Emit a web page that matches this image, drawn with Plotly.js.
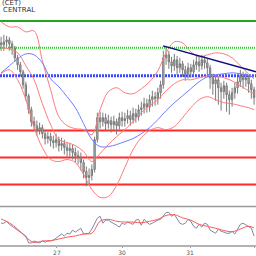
<!DOCTYPE html>
<html><head><meta charset="utf-8">
<script src="https://cdn.plot.ly/plotly-3.0.1.min.js"></script>
<style>html,body{margin:0;padding:0;background:#fff;overflow:hidden}#chart{width:256px;height:256px}</style>
</head><body><div id="chart"></div>
<script>
// prices in pips above base 1.3000
const basePrice = 1.3000, pip = 0.0001;
const openPips  = [164,162,165,167,163,159,149,142,135,122,111,97,85,81,76,79,73,68,70,66,64,67,61,63,59,56,58,54,51,49,44,35,29,31,37,67,89,85,89,83,86,82,85,81,89,86,88,91,87,93,90,97,99,103,100,107,110,108,114,122,149,152,145,141,147,139,143,137,133,139,135,142,145,141,147,144,139,129,123,127,119,115,121,112,107,114,119,125,131,127,129,123,117];
const highPips  = [170,172,171,170,166,161,152,145,137,125,113,100,90,86,84,82,77,75,74,71,73,70,69,67,64,63,62,59,56,54,47,40,38,42,70,94,95,94,93,92,90,91,88,94,95,94,97,96,99,98,102,105,109,108,112,116,115,119,126,156,160,156,150,153,151,149,146,141,144,143,147,151,150,152,151,148,142,133,132,130,124,126,124,116,119,124,130,137,135,134,132,127,120];
const lowPips   = [156,156,160,156,152,145,137,130,118,106,93,80,76,71,72,68,62,63,60,58,59,55,56,52,50,50,47,44,42,36,28,20,22,26,34,64,78,80,76,78,74,77,72,77,80,80,83,81,83,84,86,91,93,94,95,100,101,102,108,118,142,138,134,136,132,134,130,126,128,129,131,137,135,137,138,132,118,112,106,102,96,108,95,92,100,108,113,120,118,120,114,108,102];
const closePips = [162,165,167,163,159,149,142,135,122,111,97,85,81,76,79,73,68,70,66,64,67,61,63,59,56,58,54,51,49,44,35,29,31,37,67,89,85,89,83,86,82,85,81,89,86,88,91,87,93,90,97,99,103,100,107,110,108,114,122,149,152,145,141,147,139,143,137,133,139,135,142,145,141,147,144,139,129,123,127,119,115,121,112,107,114,119,125,131,127,129,123,117,109];

// indicator readings (bar index -> pips)
const indIdx        = [0,3,6,9,12,15,18,21,24,27,30,33,36,39,42,45,48,51,54,57,60,63,66,69,72,75,78,81,84,87,90,92];
const upperBandPips = [185,180,180,175,176,146,117,90,81,78,77,72,97,115,119,114,113,118,125,136,154,165,164,155,150,152,154,153,149,141,133,128];
const middleBandPips= [159,158,154,141,127,103,82,67,64,61,55,45,53,62,70,77,85,94,101,107,116,123,127,127,129,131,131,129,126,121,116,113];
const lowerBandPips = [133,137,127,107,79,59,47,45,47,44,32,17,9,10,21,39,57,69,76,79,77,80,89,99,107,110,107,104,103,101,99,97];
const maPips        = [134,141,148,153,152,144,128,120,110,99,83,67,60,60,62,65,68,73,79,87,96,104,111,118,125,130,132,133,134,133,131,130];

// oscillator (0-100)
const oscMain = [59,59,64,56,51,46,41,38,33,26,8,8,13,10,8,13,10,13,13,15,21,26,31,26,33,31,41,36,41,46,31,33,33,44,59,72,77,59,67,67,62,59,54,49,59,56,62,59,56,67,69,54,69,62,56,59,64,67,69,79,87,87,77,82,72,59,56,59,69,64,51,46,56,49,59,56,41,36,33,44,38,36,33,33,38,31,44,56,59,54,51,46,26];
const oscSignal = [70,60,44,23,9,13,14,18,23,26,31,33,64,69,64,62,62,60,64,69,79,81,73,67,56,51,46,40,37,44,51,47];

// horizontal levels (pips) and trendline
const greenSolidLevel = 186, greenDotLevel = 159, blueLevel = 131;
const redLevels = [76, 49, 22];
const trendIdx = [58.9, 92.7];
const trendPips = [161, 135];

// x tick labels (dates)
const tickIdx  = [20.3, 44, 68.7, 92];
const tickText = ['27','30','31','1'];

const P = a => a.map(v => basePrice + v*pip);
const barIdx = closePips.map((_, i) => i);

const traces = [
  {type:'candlestick', x: barIdx, open:P(openPips), high:P(highPips), low:P(lowPips), close:P(closePips),
   increasing:{line:{color:'#7a7a7a', width:1}, fillcolor:'#bdbdbd'},
   decreasing:{line:{color:'#7a7a7a', width:1}, fillcolor:'#bdbdbd'},
   whiskerwidth:0, hoverinfo:'skip', showlegend:false, xaxis:'x', yaxis:'y'},
  {type:'scatter', mode:'lines', x:indIdx, y:P(upperBandPips), line:{color:'#ff7a7a', width:1, shape:'spline'}, showlegend:false, hoverinfo:'skip'},
  {type:'scatter', mode:'lines', x:indIdx, y:P(middleBandPips), line:{color:'#ff7a7a', width:1, shape:'spline'}, showlegend:false, hoverinfo:'skip'},
  {type:'scatter', mode:'lines', x:indIdx, y:P(lowerBandPips), line:{color:'#ff7a7a', width:1, shape:'spline'}, showlegend:false, hoverinfo:'skip'},
  {type:'scatter', mode:'lines', x:indIdx, y:P(maPips), line:{color:'#6f7cff', width:1, shape:'spline'}, showlegend:false, hoverinfo:'skip'},
  {type:'scatter', mode:'lines', x:trendIdx, y:P(trendPips), line:{color:'#0a0a80', width:1.5}, showlegend:false, hoverinfo:'skip'},
  {type:'scatter', mode:'lines', x:barIdx, y:oscMain, line:{color:'#7f86a8', width:1}, xaxis:'x', yaxis:'y2', showlegend:false, hoverinfo:'skip'},
  {type:'scatter', mode:'lines', x:indIdx, y:oscSignal, line:{color:'#ff5a5a', width:1, shape:'spline'}, xaxis:'x', yaxis:'y2', showlegend:false, hoverinfo:'skip'}
];

const hline = (v, color, width, dash) => ({type:'line', xref:'paper', x0:0, x1:1, yref:'y', y0:basePrice+v*pip, y1:basePrice+v*pip, line:{color, width, dash}, layer:'below'});
const shapes = [
  hline(greenSolidLevel, '#1fa81f', 2, 'solid'),
  hline(greenDotLevel, '#2ec82e', 2, '1px,1px'),
  hline(blueLevel, '#3b48ff', 3, '2px,1px'),
  ...redLevels.map(v => hline(v, '#ff2a2a', 2, 'solid')),
  {type:'line', xref:'paper', yref:'paper', x0:0, x1:1, y0:0.161, y1:0.161, line:{color:'#9a9a9a', width:1.5}},
  {type:'line', xref:'paper', yref:'paper', x0:0, x1:1, y0:0, y1:0, line:{color:'#9a9a9a', width:1.5}}
];

const layout = {
  width:256, height:256,
  margin:{l:0, r:0, t:0, b:10},
  paper_bgcolor:'#fff', plot_bgcolor:'#fff',
  showlegend:false,
  xaxis:{range:[-0.4, 92.7], anchor:'y2', showgrid:false, zeroline:false, showline:false,
         tickvals:tickIdx, ticktext:tickText, tickfont:{size:6, color:'#555', family:'DejaVu Sans'},
         ticks:'outside', ticklen:1, tickcolor:'#999', rangeslider:{visible:false}, fixedrange:true},
  yaxis:{domain:[0.161, 1], range:[basePrice, basePrice+207*pip], showgrid:false, zeroline:false, showticklabels:false, fixedrange:true},
  yaxis2:{domain:[0, 0.157], range:[0, 100], showgrid:false, zeroline:false, showticklabels:false, fixedrange:true},
  shapes,
  annotations:[
    {text:'(CET)', xref:'paper', yref:'paper', x:0, y:1, xanchor:'left', yanchor:'top', yshift:3, showarrow:false, font:{size:7, color:'#333', family:'DejaVu Sans'}},
    {text:'CENTRAL', xref:'paper', yref:'paper', x:0, y:1, xanchor:'left', yanchor:'top', xshift:1, yshift:-4, showarrow:false, font:{size:7, color:'#333', family:'DejaVu Sans'}}
  ]
};

Plotly.newPlot('chart', traces, layout, {staticPlot:true, displayModeBar:false});
</script>
</body></html>
